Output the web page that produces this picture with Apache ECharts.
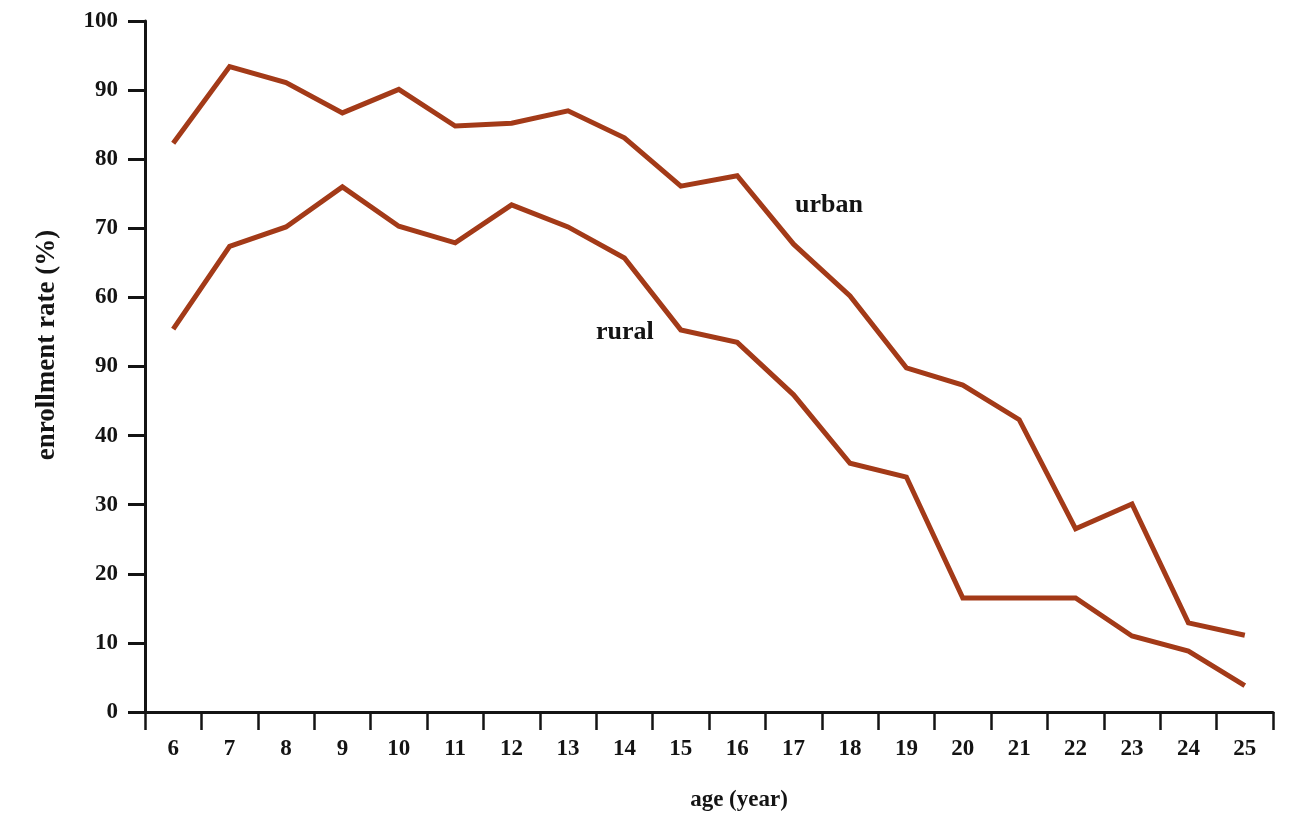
<!DOCTYPE html>
<html>
<head>
<meta charset="utf-8">
<script src="https://cdn.jsdelivr.net/npm/echarts@6/dist/echarts.min.js"></script>
<style>html,body{margin:0;padding:0;background:#fff}#c{width:1291px;height:818px}</style>
</head>
<body>
<div id="c"></div>
<script>
const ages = ['6','7','8','9','10','11','12','13','14','15','16','17','18','19','20','21','22','23','24','25'];
const urban = [82.3,93.4,91.1,86.7,90.1,84.8,85.2,87.0,83.1,76.1,77.6,67.7,60.2,49.8,47.3,42.3,26.5,30.1,12.9,11.1];
const rural = [55.4,67.4,70.2,76.0,70.3,67.9,73.4,70.2,65.7,55.3,53.5,45.9,36.0,34.0,16.5,16.5,16.5,11.0,8.8,3.8];
const yTickLabels = ['0','10','20','30','40','90','60','70','80','90','100'];

const FONT = '"Liberation Serif", "DejaVu Serif", serif';
const INK = '#141414';
const LINE = '#a33a18';

const chart = echarts.init(document.getElementById('c'));
chart.setOption({
  animation: false,
  backgroundColor: '#fff',
  grid: { left: 145, right: 18, top: 21, bottom: 106, containLabel: false },
  xAxis: {
    type: 'category',
    data: ages,
    boundaryGap: true,
    axisLine: { lineStyle: { color: INK, width: 3 } },
    axisTick: { show: true, alignWithLabel: false, length: 18, lineStyle: { color: INK, width: 2.5 } },
    axisLabel: { color: INK, fontFamily: FONT, fontWeight: 'bold', fontSize: 23, margin: 26 },
    splitLine: { show: false }
  },
  yAxis: {
    type: 'value',
    min: 0, max: 100, interval: 10,
    axisLine: { show: true, lineStyle: { color: INK, width: 3 } },
    axisTick: { show: true, length: 17, lineStyle: { color: INK, width: 3 } },
    axisLabel: {
      color: INK, fontFamily: FONT, fontWeight: 'bold', fontSize: 23, margin: 27,
      formatter: function (v) { return yTickLabels[Math.round(v / 10)]; }
    },
    splitLine: { show: false }
  },
  series: [
    { name: 'urban', type: 'line', data: urban, symbol: 'none',
      lineStyle: { color: LINE, width: 5, join: 'miter' } },
    { name: 'rural', type: 'line', data: rural, symbol: 'none',
      lineStyle: { color: LINE, width: 5, join: 'miter' } }
  ],
  graphic: [
    { type: 'text', left: 795, top: 192,
      style: { text: 'urban', fill: INK, font: 'bold 26px ' + FONT } },
    { type: 'text', left: 596, top: 319,
      style: { text: 'rural', fill: INK, font: 'bold 26px ' + FONT } },
    { type: 'text', x: 47, y: 345, rotation: Math.PI / 2,
      style: { text: 'enrollment rate (%)', fill: INK, font: 'bold 27px ' + FONT, align: 'center', verticalAlign: 'middle' } },
    { type: 'text', x: 739, y: 800,
      style: { text: 'age (year)', fill: INK, font: 'bold 23px ' + FONT, align: 'center', verticalAlign: 'middle' } }
  ]
});
</script>
</body>
</html>
